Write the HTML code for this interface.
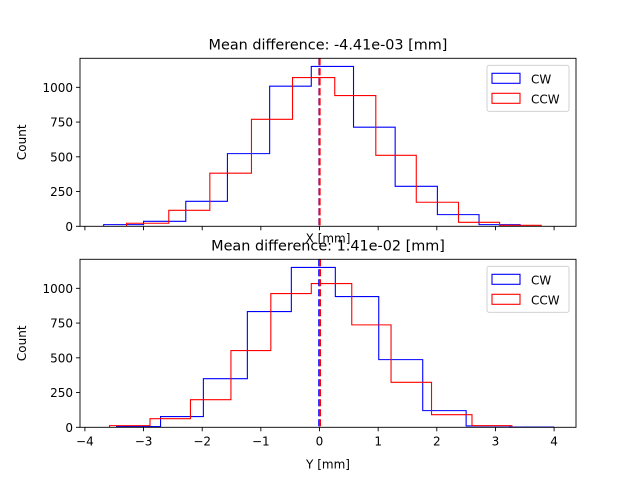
<!DOCTYPE html>
<html><head><meta charset="utf-8"><style>
html,body{margin:0;padding:0;background:#fff;}
svg text{font-family:"DejaVu Sans","Liberation Sans",sans-serif;fill:#000;}
</style></head><body>
<svg id="fig" width="640" height="480" viewBox="0 0 640 480" xmlns="http://www.w3.org/2000/svg"></svg>
<script>
// Top panel (X) data
const xEdgesCW = [-3.68,-3.0,-2.28,-1.57,-0.85,-0.14,0.58,1.29,2.01,2.72,3.42];
const xCountsCW = [12,36,180,523,1008,1150,713,288,84,12];
const xEdgesCCW = [-3.29,-2.57,-1.87,-1.16,-0.46,0.26,0.96,1.65,2.37,3.07,3.78];
const xCountsCCW = [22,115,382,770,1070,941,511,173,29,7];
const xMeanCW = -0.002;
const xMeanCCW = 0.002;
// Bottom panel (Y) data
const yEdgesCW = [-3.46,-2.71,-1.98,-1.23,-0.48,0.27,1.01,1.76,2.50,3.25,3.99];
const yCountsCW = [5,77,350,833,1150,941,487,120,10,2];
const yEdgesCCW = [-3.58,-2.89,-2.20,-1.51,-0.83,-0.14,0.55,1.22,1.91,2.60,3.28];
const yCountsCCW = [12,62,199,552,962,1034,737,324,91,12];
const yMeanCW = -0.005;
const yMeanCCW = 0.009;
const xTicks = [-4,-3,-2,-1,0,1,2,3,4];
const yTicks = [0,250,500,750,1000];
const titles = ["Mean difference: -4.41e-03 [mm]","Mean difference: 1.41e-02 [mm]"];

const NS="http://www.w3.org/2000/svg";
const svg=document.getElementById('fig');
function mk(tag,attrs,parent){const e=document.createElementNS(NS,tag);for(const k in attrs)e.setAttribute(k,attrs[k]);(parent||svg).appendChild(e);return e;}
const L=80,R=576;
const sx=v=>319.5+v*58.65;

function panel(top,bottom,edgesCW,cntCW,edgesCCW,cntCCW,mCW,mCCW,title,xlabel,showXLabels,id){
  const g=mk('g',{});
  
  
  const sy=v=>bottom-v*(bottom-87.3+ (top-58.3))/1000*0+ -v*0.13897+0;
  const Y=v=>bottom-v*0.13897;
  function step(edges,cnt,color,name){
    let d='M'+sx(edges[0])+','+bottom;
    for(let i=0;i<cnt.length;i++){d+=' L'+sx(edges[i])+','+Y(cnt[i])+' L'+sx(edges[i+1])+','+Y(cnt[i]);}
    d+=' L'+sx(edges[edges.length-1])+','+bottom;
    const p=mk('path',{d:d,fill:'none',stroke:color,'stroke-width':1.1},g);
    
    
  }
  step(edgesCW,cntCW,'#0000ff','cw-histogram');
  step(edgesCCW,cntCCW,'#ff0000','ccw-histogram');
  const m1=mk('line',{x1:sx(mCW),x2:sx(mCW),y1:top,y2:bottom,stroke:'#0000ff','stroke-width':2,'stroke-dasharray':'7,3'},g);
  
  
  const m2=mk('line',{x1:sx(mCCW),x2:sx(mCCW),y1:top,y2:bottom,stroke:'#ff0000','stroke-width':2,'stroke-dasharray':'7,3'},g);
  
  
  const fr=mk('rect',{x:L,y:top,width:R-L,height:bottom-top,fill:'none',stroke:'#000','stroke-width':0.9},g);
  
  
  xTicks.forEach(t=>{
    const tl=mk('line',{x1:sx(t),x2:sx(t),y1:bottom,y2:bottom+4,stroke:'#000','stroke-width':0.9},g);
    
    
    if(showXLabels){
      const tx=mk('text',{x:sx(t),y:bottom+18,'font-size':12,'text-anchor':'middle'},g);
      tx.textContent=(t<0?'\u2212'+(-t):String(t));
      
      
    }
  });
  yTicks.forEach(t=>{
    const tl=mk('line',{x1:L-4,x2:L,y1:Y(t),y2:Y(t),stroke:'#000','stroke-width':0.9},g);
    
    
    const tx=mk('text',{x:L-7,y:Y(t)+4.5,'font-size':12,'text-anchor':'end'},g);
    tx.textContent=String(t);
    
    
  });
  const yl=mk('text',{x:0,y:0,'font-size':12,'text-anchor':'middle',transform:'translate(26,'+((top+bottom)/2)+') rotate(-90)'},g);
  yl.textContent='Count';
  
  
  const xl=mk('text',{x:328,y:showXLabels?bottom+41:bottom+16,'font-size':12,'text-anchor':'middle'},g);
  xl.textContent=xlabel;
  
  
  const ti=mk('text',{x:328,y:top-9,'font-size':14.4,'text-anchor':'middle'},g);
  ti.textContent=title;
  
  
  // legend
  const lg=mk('g',{},g);
  
  
  const lt=top+7;
  mk('rect',{x:487,y:lt,width:82,height:46,rx:2,fill:'#fff','fill-opacity':0.8,stroke:'#ccc','stroke-width':0.9},lg);
  [['CW','#0000ff'],['CCW','#ff0000']].forEach((e,i)=>{
    const eg=mk('g',{},lg);
    
    
    const yy=lt+8+i*20;
    mk('rect',{x:492,y:yy,width:28,height:10,fill:'none',stroke:e[1],'stroke-width':1.1},eg);
    const t=mk('text',{x:531,y:yy+10,'font-size':12},eg);
    t.textContent=e[0];
  });
}
panel(58.3,226.3,xEdgesCW,xCountsCW,xEdgesCCW,xCountsCCW,xMeanCW,xMeanCCW,titles[0],'X [mm]',false,'top');
panel(259.3,427.3,yEdgesCW,yCountsCW,yEdgesCCW,yCountsCCW,yMeanCW,yMeanCCW,titles[1],'Y [mm]',true,'bottom');
</script>
</body></html>
